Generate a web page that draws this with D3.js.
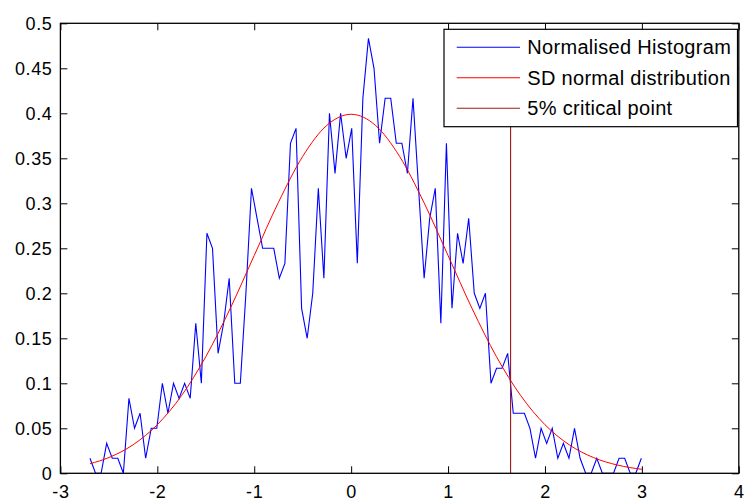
<!DOCTYPE html>
<html>
<head>
<meta charset="utf-8">
<script src="https://cdn.jsdelivr.net/npm/d3@7"></script>
<style>
  body { margin: 0; background: #ffffff; }
  text { font-family: "Liberation Sans", Arial, sans-serif; }
</style>
</head>
<body>
<script>
// histogram bins: first bin centre, bin width and the normalised heights
var binStart = -2.695;
var binWidth = 0.05747;
var histValues = [
  0.0167, 0, 0, 0.0333, 0.0167, 0.0167, 0, 0.0833, 0.05, 0.0667,
  0.0167, 0.05, 0.05, 0.1, 0.0667, 0.1, 0.0833, 0.1, 0.0833, 0.1667,
  0.1, 0.2667, 0.25, 0.1333, 0.1667, 0.2167, 0.1, 0.1, 0.2, 0.3167,
  0.2833, 0.25, 0.25, 0.25, 0.2167, 0.2333, 0.3667, 0.3833, 0.1833, 0.15,
  0.2, 0.3167, 0.2167, 0.4, 0.3333, 0.4, 0.35, 0.3833, 0.2333, 0.4167,
  0.4833, 0.45, 0.3667, 0.4167, 0.4167, 0.3667, 0.3667, 0.3333, 0.4167, 0.3167,
  0.2167, 0.2833, 0.3167, 0.1667, 0.3667, 0.1833, 0.2667, 0.2333, 0.2833, 0.2,
  0.1833, 0.2, 0.1, 0.1167, 0.1167, 0.1333, 0.0667, 0.0667, 0.0667, 0.05,
  0.0167, 0.05, 0.0333, 0.05, 0.0167, 0.0333, 0.0167, 0.05, 0.0167, 0,
  0, 0.0167, 0, 0, 0, 0.0167, 0.0167, 0, 0, 0.0167
];

// standard normal curve
var normalX = [-2.695, -2.5, -2.25, -2, -1.75, -1.5, -1.25, -1, -0.75, -0.5, -0.25, 0,
               0.25, 0.5, 0.75, 1, 1.25, 1.5, 1.75, 2, 2.25, 2.5, 2.75, 3.0];
var normalY = [0.0106, 0.0175, 0.0317, 0.054, 0.0863, 0.1295, 0.1826, 0.242, 0.3011, 0.3521, 0.3867, 0.3989,
               0.3867, 0.3521, 0.3011, 0.242, 0.1826, 0.1295, 0.0863, 0.054, 0.0317, 0.0175, 0.0091, 0.0044];

// 5% critical point
var criticalX = 1.645;
var criticalTop = 0.45;

// axis ticks
var xTicks = [-3, -2, -1, 0, 1, 2, 3, 4];
var xTickLabels = ["-3", "-2", "-1", "0", "1", "2", "3", "4"];
var yTicks = [0, 0.05, 0.1, 0.15, 0.2, 0.25, 0.3, 0.35, 0.4, 0.45, 0.5];
var yTickLabels = ["0", "0.05", "0.1", "0.15", "0.2", "0.25", "0.3", "0.35", "0.4", "0.45", "0.5"];

var legendLabels = ["Normalised Histogram", "SD normal distribution", "5% critical point"];
var legendColours = ["#0000ff", "#ff0000", "#a01818"];

// defines the size of the SVG
var width = 744;
var height = 501;

// defines the padding for the graph
var pad = {
  top: 23.3,
  bottom: 27.7,
  left: 60.4,
  right: 5.2
};

var svg = d3.select("body")
            .append("svg")
            .attr("width", width)
            .attr("height", height);

svg.append("rect")
   .attr("width", "100%")
   .attr("height", "100%")
   .attr("fill", "#ffffff");

var xScale = d3.scaleLinear()
               .domain([-3, 4])
               .range([pad.left, width - pad.right]);
var yScale = d3.scaleLinear()
               .domain([0, 0.5])
               .range([height - pad.bottom, pad.top]);

// histogram line
var histData = histValues.map(function(v, i){
                 return [binStart + i * binWidth, v];
               });
var line = d3.line()
             .x(function(d){ return xScale(d[0]); })
             .y(function(d){ return yScale(d[1]); });

svg.append("path")
   .datum(histData)
   .attr("fill", "none")
   .attr("stroke", legendColours[0])
   .attr("stroke-width", 1.1)
   .attr("d", line);

// normal distribution curve
var normalData = normalX.map(function(x, i){ return [x, normalY[i]]; });
svg.append("path")
   .datum(normalData)
   .attr("fill", "none")
   .attr("stroke", legendColours[1])
   .attr("stroke-width", 1)
   .attr("d", line.curve(d3.curveMonotoneX));

// critical point line
svg.append("line")
   .attr("x1", xScale(criticalX))
   .attr("x2", xScale(criticalX))
   .attr("y1", yScale(0))
   .attr("y2", yScale(criticalTop))
   .attr("stroke", legendColours[2])
   .attr("stroke-width", 1.1);

// axes with inward ticks
var fontSize = 18;
var xAxis = d3.axisBottom(xScale)
              .tickValues(xTicks)
              .tickFormat(function(d, i){ return xTickLabels[i]; })
              .tickSizeInner(-7)
              .tickSizeOuter(0)
              .tickPadding(11.5);
var yAxis = d3.axisLeft(yScale)
              .tickValues(yTicks)
              .tickFormat(function(d, i){ return yTickLabels[i]; })
              .tickSizeInner(-7)
              .tickSizeOuter(0)
              .tickPadding(8);

var gx = svg.append("g")
            .attr("transform", "translate(0," + (height - pad.bottom) + ")")
            .call(xAxis);
var gy = svg.append("g")
            .attr("transform", "translate(" + pad.left + ",0)")
            .call(yAxis);
svg.append("g")
   .attr("transform", "translate(0," + pad.top + ")")
   .call(d3.axisTop(xScale).tickValues(xTicks).tickFormat("").tickSizeInner(-7).tickSizeOuter(0));
svg.append("g")
   .attr("transform", "translate(" + (width - pad.right) + ",0)")
   .call(d3.axisRight(yScale).tickValues(yTicks).tickFormat("").tickSizeInner(-7).tickSizeOuter(0));

svg.selectAll(".domain").remove();
svg.selectAll(".tick line").attr("stroke", "#000").attr("stroke-width", 1);
svg.selectAll(".tick text")
   .attr("fill", "#000")
   .style("font-size", fontSize + "px")
   .style("letter-spacing", "0.6px")
   .style("font-family", "'Liberation Sans', Arial, sans-serif");

// box around the plot
svg.append("rect")
   .attr("x", pad.left)
   .attr("y", pad.top)
   .attr("width", width - pad.right - pad.left)
   .attr("height", height - pad.bottom - pad.top)
   .attr("fill", "none")
   .attr("stroke", "#000")
   .attr("stroke-width", 1.3);

// legend
var legend = svg.append("g");
legend.append("rect")
      .attr("x", 444)
      .attr("y", 29.3)
      .attr("width", 293.5)
      .attr("height", 97.4)
      .attr("fill", "#fff")
      .attr("stroke", "#000")
      .attr("stroke-width", 1.2);

var rows = legend.selectAll(".row")
                 .data(legendLabels)
                 .enter()
                 .append("g")
                 .attr("transform", function(d, i){
                   return "translate(0," + (47.3 + i * 30.5) + ")";
                 });
rows.append("line")
    .attr("x1", 456.7)
    .attr("x2", 520)
    .attr("stroke", function(d, i){ return legendColours[i]; })
    .attr("stroke-width", 1.1);
rows.append("text")
    .attr("x", 527.3)
    .attr("dy", "0.35em")
    .style("font-size", "20px")
    .style("letter-spacing", "0.3px")
    .attr("fill", "#000")
    .text(function(d){ return d; });
</script>
</body>
</html>
